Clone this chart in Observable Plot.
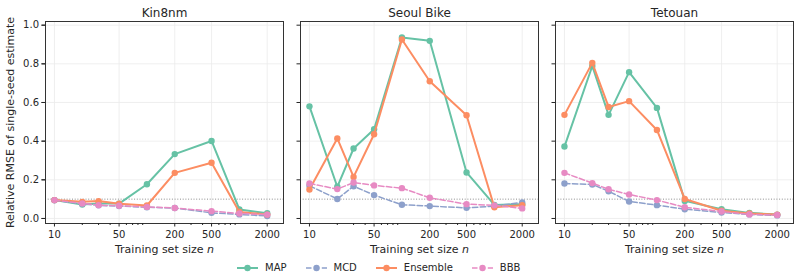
<!DOCTYPE html>
<html>
<head>
<meta charset="utf-8">
<script src="https://cdn.jsdelivr.net/npm/d3@7"></script>
<script src="https://cdn.jsdelivr.net/npm/@observablehq/plot@0.6"></script>
<style>
  body { margin: 0; background: #fff; font-family: "DejaVu Sans", sans-serif; }
  #chart { position: relative; width: 802px; height: 279px; }
  #legend { position: absolute; left: 237px; top: 261px; display: flex; align-items: center;
            font-size: 10px; color: #262626; line-height: 14px; }
  .item { display: flex; align-items: center; margin-right: 19px; }
  .item svg { margin-right: 7px; }
</style>
</head>
<body>
<div id="chart"></div>
<script>
// Datasets (panels), training-set sizes and methods
const datasets = ["Kin8nm", "Seoul Bike", "Tetouan"];
const sizes = [10, 20, 30, 50, 100, 200, 500, 1000, 2000];
const methods = ["MAP", "MCD", "Ensemble", "BBB"];
const colors = ["#66c2a5", "#8da0cb", "#fc8d62", "#e78ac3"];
const dashed = [false, true, false, true];

// Relative RMSE of the single-seed estimate, one array per dataset and method
const kin8nmMAP      = [0.095, 0.072, 0.078, 0.077, 0.177, 0.333, 0.401, 0.047, 0.027];
const kin8nmMCD      = [0.094, 0.076, 0.068, 0.064, 0.058, 0.054, 0.029, 0.021, 0.013];
const kin8nmEnsemble = [0.095, 0.086, 0.090, 0.076, 0.067, 0.236, 0.288, 0.034, 0.020];
const kin8nmBBB      = [0.095, 0.078, 0.069, 0.066, 0.060, 0.054, 0.038, 0.026, 0.020];

const seoulMAP       = [0.580, 0.164, 0.362, 0.462, 0.936, 0.919, 0.238, 0.070, 0.074];
const seoulMCD       = [0.169, 0.101, 0.167, 0.121, 0.071, 0.064, 0.055, 0.064, 0.083];
const seoulEnsemble  = [0.150, 0.414, 0.215, 0.436, 0.926, 0.710, 0.534, 0.058, 0.069];
const seoulBBB       = [0.181, 0.152, 0.186, 0.171, 0.157, 0.107, 0.074, 0.068, 0.052];

const tetouanMAP      = [0.372, 0.789, 0.536, 0.757, 0.572, 0.091, 0.048, 0.029, 0.020];
const tetouanMCD      = [0.181, 0.176, 0.141, 0.088, 0.069, 0.048, 0.031, 0.021, 0.016];
const tetouanEnsemble = [0.536, 0.805, 0.577, 0.607, 0.458, 0.101, 0.040, 0.026, 0.020];
const tetouanBBB      = [0.236, 0.183, 0.151, 0.124, 0.095, 0.058, 0.036, 0.021, 0.018];

const series = {
  "Kin8nm":     [kin8nmMAP, kin8nmMCD, kin8nmEnsemble, kin8nmBBB],
  "Seoul Bike": [seoulMAP, seoulMCD, seoulEnsemble, seoulBBB],
  "Tetouan":    [tetouanMAP, tetouanMCD, tetouanEnsemble, tetouanBBB]
};

// Axis ticks
const xMajor = [10, 50, 200, 500, 2000];
const xMinor = [20, 30, 40, 60, 70, 80, 90, 300, 400, 600, 700, 800, 900];
const yTicks = [0, 0.2, 0.4, 0.6, 0.8, 1.0];
const reference = [0.1];

// Tidy rows
const rows = [];
for (const ds of datasets) {
  methods.forEach((m, i) => {
    series[ds][i].forEach((v, j) => rows.push({dataset: ds, method: m, n: sizes[j], value: v}));
  });
}

const marks = [
  Plot.gridX(xMajor, {stroke: "#ebebeb", strokeOpacity: 1, strokeWidth: 0.8}),
  Plot.gridY(yTicks, {stroke: "#ebebeb", strokeOpacity: 1, strokeWidth: 0.8}),
  Plot.ruleY(reference, {stroke: "#8c8c8c", strokeWidth: 1, strokeDasharray: "1,1.7"})
];

methods.forEach((m, i) => {
  const data = rows.filter(d => d.method === m);
  marks.push(
    Plot.line(data, {
      x: "n", y: "value", fx: "dataset",
      stroke: colors[i],
      strokeWidth: dashed[i] ? 1.5 : 2,
      strokeDasharray: dashed[i] ? "5.5,2.4" : null
    }),
    Plot.dot(data, {x: "n", y: "value", fx: "dataset", fill: colors[i], r: 3.2})
  );
});

marks.push(
  Plot.frame({stroke: "#333", strokeWidth: 1}),
  // x tick marks (major and minor) and the major tick labels
  Plot.axisX(xMajor, {tickSize: 3.5, tickFormat: () => "", label: null}),
  Plot.axisX(xMinor, {tickSize: 2, tickFormat: () => "", label: null}),
  Plot.text(xMajor, {
    x: d => d, text: d => String(d), frameAnchor: "bottom",
    dy: 7, lineAnchor: "top", fontSize: 10
  }),
  Plot.axisY(yTicks, {
    tickSize: 3.5, tickPadding: 3, fontSize: 10,
    tickFormat: d3.format(".1f"),
    label: "Relative RMSE of single-seed estimate",
    labelAnchor: "center", labelArrow: "none", labelOffset: 39
  }),
  Plot.axisY(yTicks, {tickSize: 3.5, tickFormat: () => "", label: null, facetAnchor: null}),
  Plot.axisFx({anchor: "top", label: null, tickSize: 0, tickPadding: 5, fontSize: 12}),
  Plot.text(datasets, {
    fx: d => d, text: () => "Training set size n",
    frameAnchor: "bottom", dy: 26, fontSize: 11, lineAnchor: "middle"
  })
);

const chart = Plot.plot({
  width: 802,
  height: 260,
  marginLeft: 44,
  marginRight: 7,
  marginTop: 21,
  marginBottom: 37,
  style: {fontFamily: "DejaVu Sans, sans-serif", fontSize: "10px", color: "#262626", background: "white"},
  fx: {domain: datasets, paddingInner: 0.066, paddingOuter: 0, label: null},
  x: {type: "log", domain: [8, 3000]},
  y: {domain: [-0.026, 1.019]},
  marks
});

// Italic n in the x-axis titles
chart.querySelectorAll("text").forEach(t => {
  if (t.textContent === "Training set size n") {
    t.textContent = "Training set size ";
    const ts = document.createElementNS("http://www.w3.org/2000/svg", "tspan");
    ts.setAttribute("font-style", "italic");
    ts.textContent = "n";
    t.appendChild(ts);
  }
});
chart.querySelectorAll('[aria-label="y-axis label"]').forEach(g => g.setAttribute("font-size", 11));

const root = document.getElementById("chart");
root.appendChild(chart);

// Legend below the panels
const legend = document.createElement("div");
legend.id = "legend";
methods.forEach((m, i) => {
  const item = document.createElement("div");
  item.className = "item";
  const dash = dashed[i] ? ' stroke-dasharray="5.5,2.4"' : "";
  item.innerHTML =
    `<svg width="21" height="10"><line x1="0" x2="21" y1="5" y2="5" stroke="${colors[i]}" stroke-width="${dashed[i] ? 1.5 : 2}"${dash}/>` +
    `<circle cx="10.5" cy="5" r="3.2" fill="${colors[i]}"/></svg><span>${m}</span>`;
  legend.appendChild(item);
});
root.appendChild(legend);
</script>
</body>
</html>
